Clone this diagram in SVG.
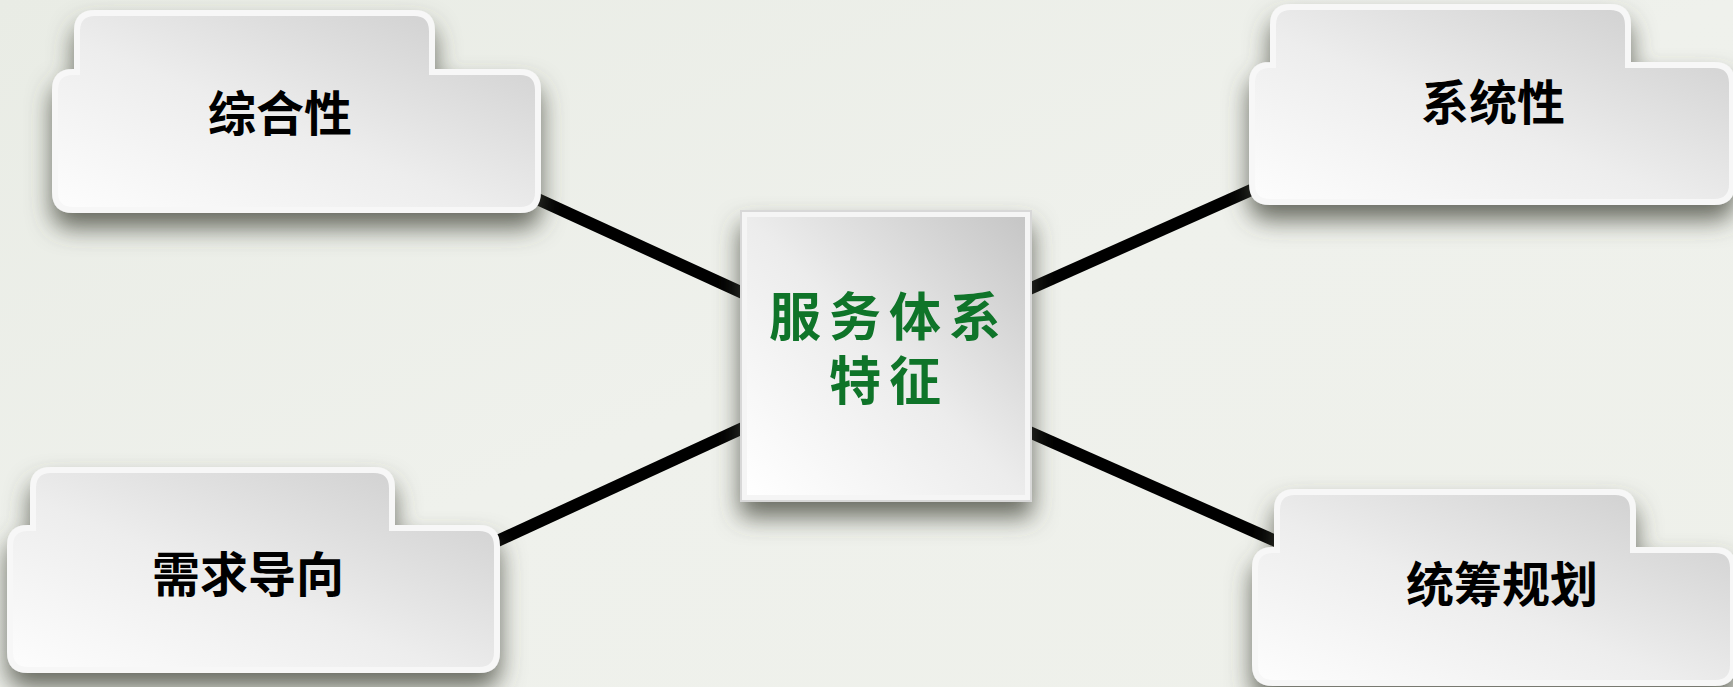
<svg xmlns="http://www.w3.org/2000/svg" width="1733" height="687" viewBox="0 0 1733 687">
<style>
.lbl{font-family:"Noto Sans CJK SC","Noto Sans",sans-serif;font-weight:bold;font-size:48px;fill:#000;text-anchor:middle}
.ctr{font-family:"Noto Sans CJK SC","Noto Sans",sans-serif;font-weight:bold;font-size:52px;fill:#0f7429;text-anchor:middle;letter-spacing:8px}
.card{fill:url(#cardFill);stroke:#f7f7f7;stroke-width:6;filter:url(#shadow)}
.conn{stroke:#000;stroke-width:12;stroke-linecap:butt;fill:none}
</style>
<defs>
<linearGradient id="bg" x1="0" y1="0" x2="1" y2="1">
<stop offset="0" stop-color="#e9ece5"/>
<stop offset="0.5" stop-color="#eff1ec"/>
<stop offset="1" stop-color="#eef0ea"/>
</linearGradient>
<linearGradient id="cardFill" x1="0" y1="1" x2="1" y2="0">
<stop offset="0" stop-color="#fdfdfd"/>
<stop offset="0.45" stop-color="#ededed"/>
<stop offset="1" stop-color="#cbcbcb"/>
</linearGradient>
<linearGradient id="ctrFill" x1="0" y1="1" x2="1" y2="0">
<stop offset="0" stop-color="#ffffff"/>
<stop offset="0.5" stop-color="#ececec"/>
<stop offset="1" stop-color="#c6c6c6"/>
</linearGradient>
<filter id="shadow" x="-20%" y="-20%" width="140%" height="160%">
<feDropShadow dx="0" dy="15" stdDeviation="12" flood-color="#464b41" flood-opacity="0.8"/>
</filter>
</defs>
<rect x="0" y="0" width="1733" height="687" fill="url(#bg)"/>
<g id="connectors">
<line class="conn" x1="533" y1="197" x2="745" y2="294"/>
<line class="conn" x1="493" y1="543" x2="745" y2="427"/>
<line class="conn" x1="1027" y1="290" x2="1258" y2="187"/>
<line class="conn" x1="1027" y1="431" x2="1278" y2="542"/>
</g>
<g id="node-zonghexing">
<path class="card" d="M95,13 H414 Q432,13 432,31 V72 H520 Q538,72 538,90 V192 Q538,210 520,210 H73 Q55,210 55,192 V90 Q55,72 73,72 H77 V31 Q77,13 95,13 Z"/>
<text class="lbl" x="280" y="131">综合性</text>
</g>
<g id="node-xitongxing">
<path class="card" d="M1291,7 H1610 Q1628,7 1628,25 V65 H1714 Q1732,65 1732,83 V184 Q1732,202 1714,202 H1270 Q1252,202 1252,184 V83 Q1252,65 1270,65 H1273 V25 Q1273,7 1291,7 Z"/>
<text class="lbl" x="1493" y="120">系统性</text>
</g>
<g id="node-xuqiudaoxiang">
<path class="card" d="M51,470 H374 Q392,470 392,488 V528 H479 Q497,528 497,546 V652 Q497,670 479,670 H28 Q10,670 10,652 V546 Q10,528 28,528 H33 V488 Q33,470 51,470 Z"/>
<text class="lbl" x="248" y="592">需求导向</text>
</g>
<g id="node-tongchouguihua">
<path class="card" d="M1295,492 H1615 Q1633,492 1633,510 V550 H1715 Q1733,550 1733,568 V665 Q1733,683 1715,683 H1273 Q1255,683 1255,665 V568 Q1255,550 1273,550 H1277 V510 Q1277,492 1295,492 Z"/>
<text class="lbl" x="1502" y="602">统筹规划</text>
</g>
<g id="node-center">
<rect x="741" y="211" width="290" height="290" fill="#f5f5f5" stroke="#d8d8d8" stroke-width="2" filter="url(#shadow)"/>
<rect x="747" y="217" width="278" height="278" fill="url(#ctrFill)"/>
<text class="ctr"><tspan x="889" y="336">服务体系</tspan><tspan x="889" y="400">特征</tspan></text>
</g>
</svg>
